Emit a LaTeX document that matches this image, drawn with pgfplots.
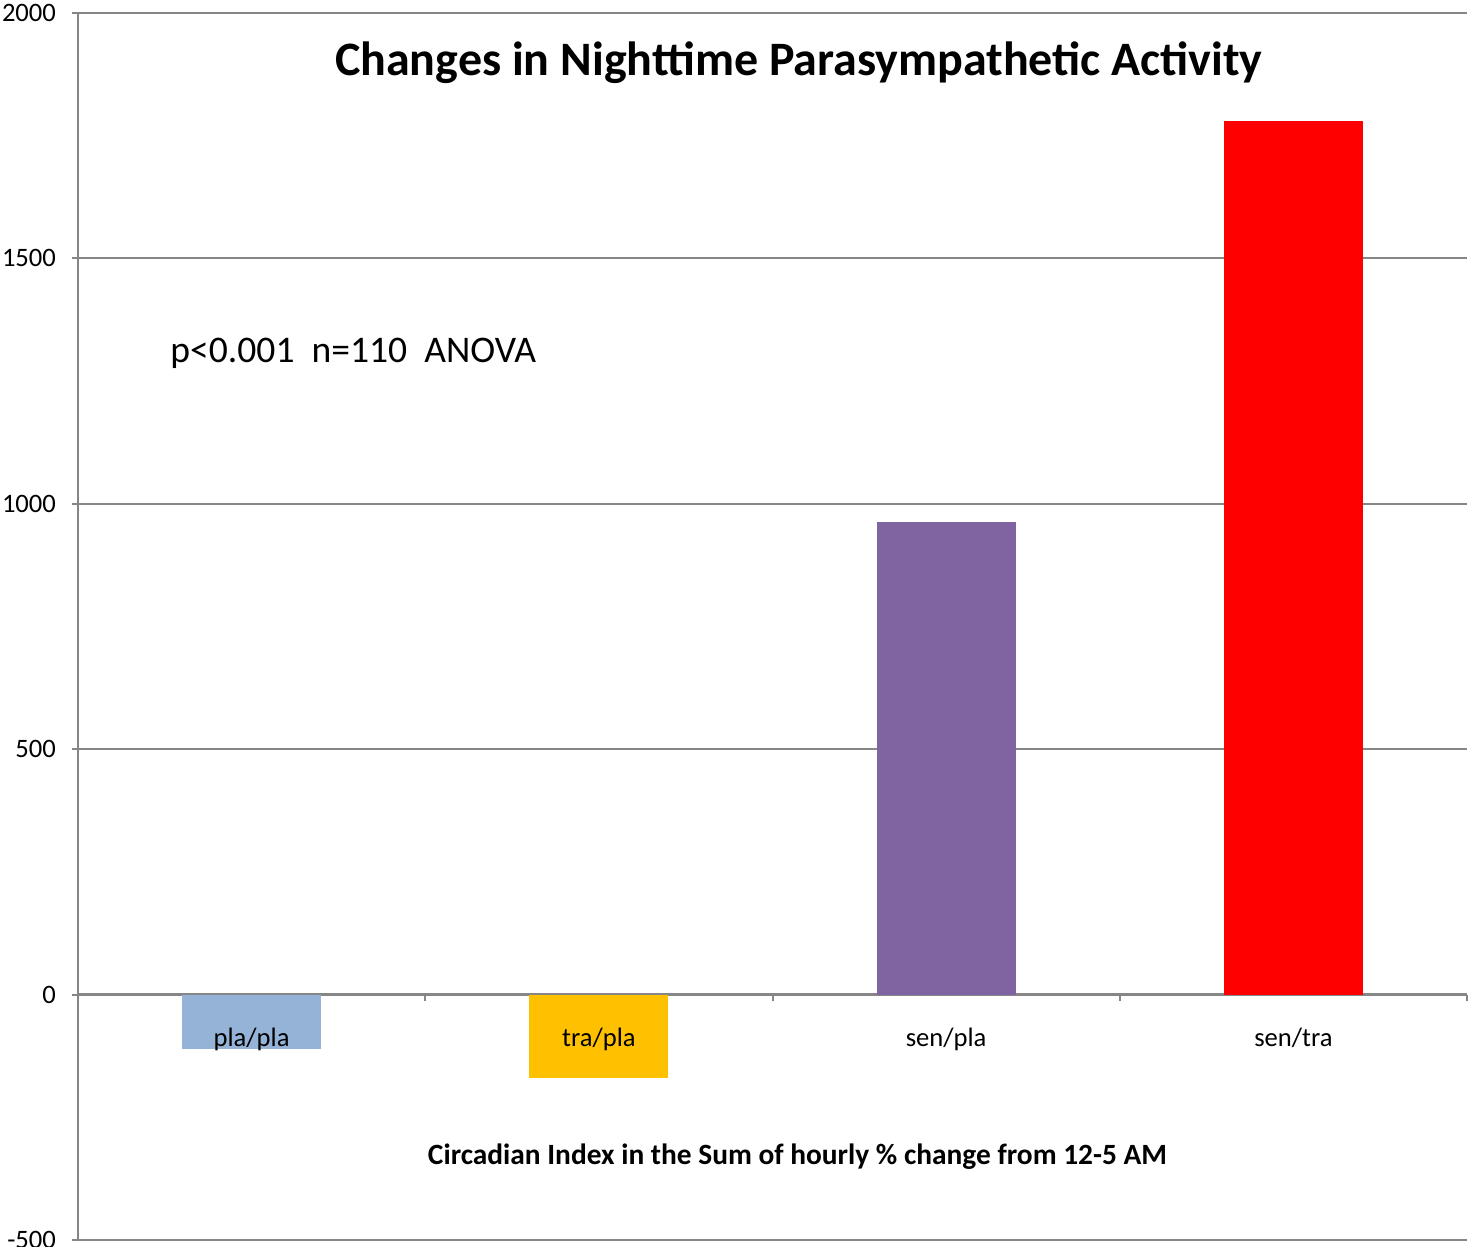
\documentclass[border=0pt]{standalone}
\usepackage{pgfplots}
\pgfplotsset{compat=1.18}
\usepackage{fontspec}
\setmainfont{Carlito}
\definecolor{gridgray}{HTML}{868686}
\definecolor{plapla}{HTML}{95B3D7}
\definecolor{trapla}{HTML}{FFC000}
\definecolor{senpla}{HTML}{8064A2}
\definecolor{sentra}{HTML}{FF0000}
\pgfplotsset{
    frame/.style={
        scale only axis,
        width=694.5pt,
        height=613.5pt,
        xmin=-0.5, xmax=3.5,
        ymin=-500, ymax=2000,
    },
}
\begin{document}
\begin{tikzpicture}
% bars, grid, axis lines
\begin{axis}[
    frame,
    name=ax,
    axis x line=middle,
    axis y line=left,
    axis line style={-, draw=gridgray, line width=1.2pt},
    ytick={-500,0,...,2000},
    ymajorgrids,
    grid style={gridgray, line width=1pt},
    ytick style={draw=gridgray, line width=1pt},
    tick align=outside,
    major tick length=3pt,
    xtick={0.5,1.5,2.5,3.5},
    xticklabels={},
    xtick style={draw=gridgray, line width=1pt},
    yticklabel style={font=\fontsize{13.3}{15}\selectfont, xshift=-4.5pt, /pgf/number format/1000 sep={}},
    /pgf/number format/assume math mode=true,
    ybar,
    bar width=69.5pt,
    bar shift=0pt,
    clip=false,
]
\addplot[fill=plapla, draw=none] coordinates {(0,-110)};
\addplot[fill=trapla, draw=none] coordinates {(1,-169)};
\addplot[fill=senpla, draw=none] coordinates {(2,962)};
\addplot[fill=sentra, draw=none] coordinates {(3,1779)};
\node[font=\bfseries\fontsize{24}{28}\selectfont] at (rel axis cs:0.519,0.9595) {Changes in Nighttime Parasympathetic Activity};
\node[anchor=base west, inner sep=0pt, font=\fontsize{18.8}{22}\selectfont] at (axis cs:-0.235,1288) {p<0.001~~n=110~~ANOVA};
\node[font=\bfseries\fontsize{14.7}{17}\selectfont] at (axis cs:1.572,-330) {Circadian Index in the Sum of hourly \% change from 12-5 AM};
\end{axis}
% category names, drawn over the bars
\begin{axis}[
    frame,
    axis x line=middle,
    axis y line=none,
    axis line style={draw=none},
    ytick=\empty,
    xtick={0,1,2,3},
    xticklabels={pla/pla, tra/pla, sen/pla, sen/tra},
    major tick length=0pt,
    xticklabel style={anchor=base, yshift=-26pt, font=\fontsize{13.3}{15}\selectfont},
]
\end{axis}
\pgfresetboundingbox
\useasboundingbox ([shift={(-39pt,-3pt)}]ax.south west) rectangle ([shift={(1.5pt,6.5pt)}]ax.north east);
\end{tikzpicture}
\end{document}
